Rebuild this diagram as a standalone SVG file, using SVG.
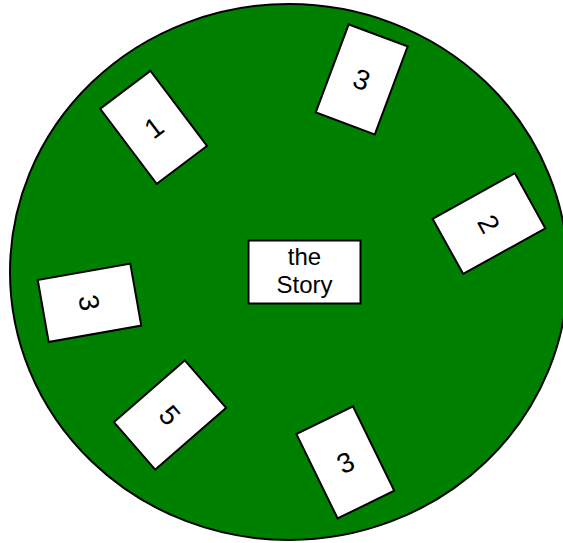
<svg xmlns="http://www.w3.org/2000/svg" width="563" height="543" viewBox="0 0 563 543">
<style>
.card rect{fill:#fff;stroke:#000;stroke-width:2}
.card text{font-family:"Liberation Sans",Arial,sans-serif;font-size:28px;fill:#000;text-anchor:middle}
#story text{font-size:24px}
</style>
<rect width="563" height="543" fill="#fff"/>
<g id="table"><ellipse cx="289" cy="272" rx="279" ry="268" fill="#008000" stroke="#000" stroke-width="2"/></g>
<g id="story" class="card">
<rect x="248.5" y="240.5" width="112" height="63"/>
<text x="304.5" y="265">the</text>
<text x="304.5" y="293">Story</text>
</g>
<g id="card1" class="card" transform="translate(153.6,127.3) rotate(-37)"><rect x="-31.5" y="-47" width="63" height="94"/><text y="10">1</text></g>
<g id="card3top" class="card" transform="translate(361.7,79.4) rotate(20.5)"><rect x="-31.5" y="-47" width="63" height="94"/><text y="10">3</text></g>
<g id="card2" class="card" transform="translate(489,223.6) rotate(61)"><rect x="-31.5" y="-47" width="63" height="94"/><text y="10">2</text></g>
<g id="card3left" class="card" transform="translate(89.5,302.8) rotate(80)"><rect x="-31.5" y="-47" width="63" height="94"/><text y="10">3</text></g>
<g id="card5" class="card" transform="translate(170,415) rotate(49)"><rect x="-31.5" y="-47" width="63" height="94"/><text y="10">5</text></g>
<g id="card3bottom" class="card" transform="translate(345.3,462.4) rotate(-26)"><rect x="-31.5" y="-47" width="63" height="94"/><text y="10">3</text></g>
<g id="connectors"></g>
</svg>
